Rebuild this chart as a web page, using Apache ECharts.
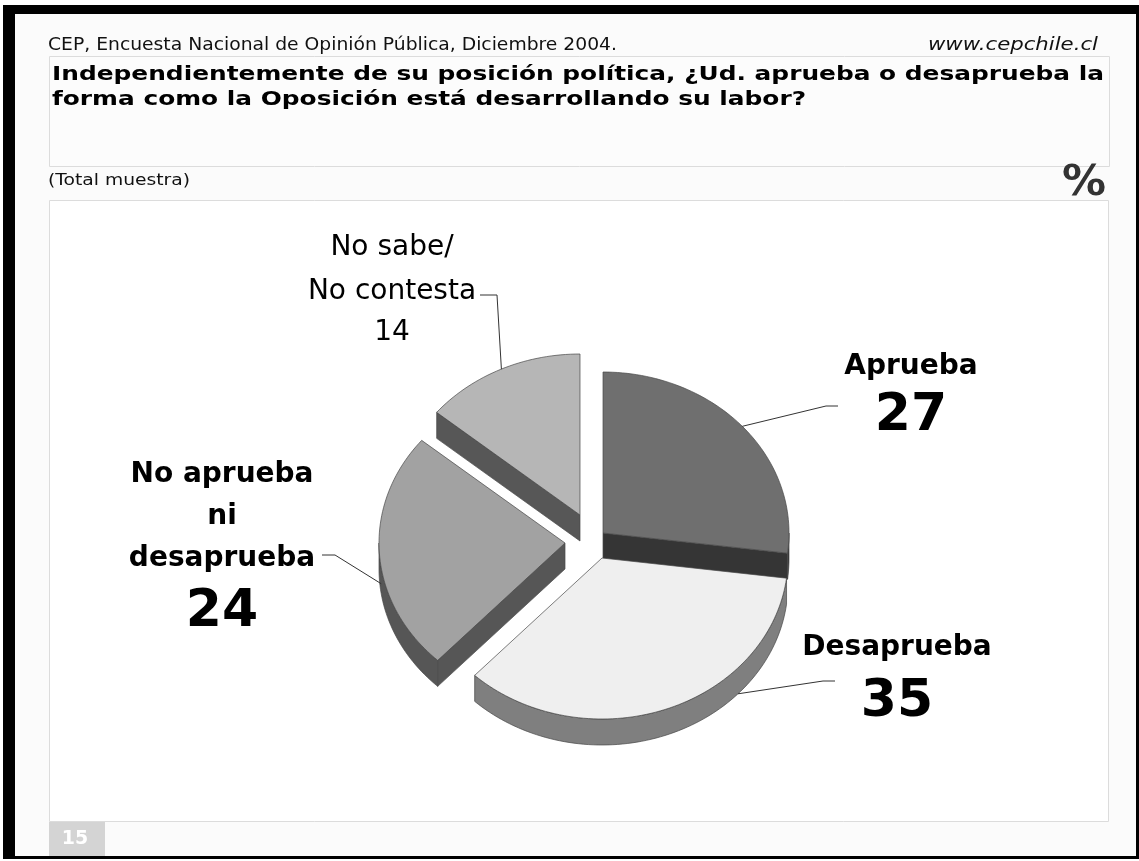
<!DOCTYPE html>
<html>
<head>
<meta charset="utf-8">
<script src="https://cdn.jsdelivr.net/npm/echarts@6/dist/echarts.min.js"></script>
<style>
  html, body { margin: 0; padding: 0; background: #ffffff; }
  #chart { width: 1139px; height: 861px; }
</style>
</head>
<body>
<div id="chart"></div>
<script>
// ---------------- data ----------------
const categories = ['Aprueba', 'Desaprueba', 'No aprueba\nni\ndesaprueba', 'No sabe/\nNo contesta'];
const values = [27, 35, 24, 14];
const sourceText = 'CEP, Encuesta Nacional de Opinión Pública, Diciembre 2004.';
const siteText = 'www.cepchile.cl';
const titleLines = ['Independientemente de su posición política, ¿Ud. aprueba o desaprueba la',
                    'forma como la Oposición está desarrollando su labor?'];
const sampleText = '(Total muestra)';
const unitText = '%';
const pageNumber = '15';

// ---------------- style / layout ----------------
const topColors  = ['#6f6f6f', '#efefef', '#a2a2a2', '#b6b6b6'];
const sideColors = ['#353535', '#7f7f7f', '#565656', '#575757'];
const PIE = { cx: 603, cy: 533, rx: 186, ry: 161, depth: 26 };
const explode = [[0, 0], [-1, 25], [-38, 10], [-23, -18]];
const labelLayout = [
  { x: 911, nameY: 367, valueY: 416, bold: true,  lh: 42, leaderAngle: 48.5, leaderDepth: 0,   leader: [[826, 406], [838, 406]] },
  { x: 897, nameY: 648, valueY: 702, bold: true,  lh: 42, leaderAngle: 133,  leaderDepth: 1,   leader: [[823, 681], [835, 681]] },
  { x: 222, nameY: 517, valueY: 612, bold: true,  lh: 42, leaderAngle: 261,  leaderDepth: 0.6, leader: [[335, 555], [322, 555]] },
  { x: 392, nameY: 270, valueY: 333, bold: false, lh: 44, leaderAngle: 335,  leaderDepth: 0,   leader: [[497, 295], [480, 295]] }
];

// ---------------- helpers ----------------
const total = values.reduce((a, b) => a + b, 0);
const angles = [];
(function () { let acc = 0; values.forEach(v => { const s = acc / total * 360; acc += v; angles.push([s, acc / total * 360]); }); })();

const mctx = document.createElement('canvas').getContext('2d');
function measure(text, font) { mctx.font = font; return mctx.measureText(text).width; }

function pt(c, ang, dy) {
  const a = ang * Math.PI / 180;
  return [c[0] + PIE.rx * Math.sin(a), c[1] - PIE.ry * Math.cos(a) + dy];
}
function arcPts(c, a0, a1, dy) {
  const n = Math.max(2, Math.ceil(Math.abs(a1 - a0) / 1.5));
  const out = [];
  for (let k = 0; k <= n; k++) out.push(pt(c, a0 + (a1 - a0) * k / n, dy));
  return out;
}

const FONT = '"DejaVu Sans", Verdana, sans-serif';
function txt(o) {
  const st = Object.assign({ fill: '#000' }, o.style);
  if (st.align) st.textAlign = st.align;
  if (st.verticalAlign) st.textVerticalAlign = st.verticalAlign;
  return { type: 'text', x: o.x, y: o.y, scaleX: o.scaleX || 1, style: st, z: 5 };
}

function renderItem(params, api) {
  const i = params.dataIndex;
  const s = angles[i][0], e = angles[i][1];
  const c = [PIE.cx + explode[i][0], PIE.cy + explode[i][1]];
  const D = PIE.depth;
  const line = { stroke: '#474747', lineWidth: 0.7, lineJoin: 'round' };
  const children = [];
  // curved outer wall (front half only)
  const w0 = Math.max(s, 90), w1 = Math.min(e, 270);
  if (w1 > w0) {
    const pts = arcPts(c, w0, w1, 0).concat(arcPts(c, w1, w0, D));
    children.push({ type: 'polygon', shape: { points: pts }, style: Object.assign({ fill: sideColors[i] }, line) });
  }
  function radialWall(a) {
    const r = pt(c, a, 0);
    return { type: 'polygon', shape: { points: [c, r, [r[0], r[1] + D], [c[0], c[1] + D]] },
             style: Object.assign({ fill: sideColors[i] }, line) };
  }
  if (s > 180 && s < 360) children.push(radialWall(s));
  if (e > 0 && e < 180) children.push(radialWall(e));
  // top face
  children.push({ type: 'polygon', shape: { points: [c].concat(arcPts(c, s, e, 0)) },
                  style: Object.assign({ fill: topColors[i] }, line) });
  // leader line
  const L = labelLayout[i];
  const rim = pt(c, L.leaderAngle, D * L.leaderDepth);
  children.push({ type: 'polyline', shape: { points: [rim].concat(L.leader) },
                  style: { stroke: '#333', lineWidth: 1, fill: null } });
  // labels
  const w = L.bold ? 'bold ' : '';
  children.push(txt({ x: L.x, y: L.nameY, style: { text: categories[i], font: w + '28px ' + FONT,
                       align: 'center', verticalAlign: 'middle', lineHeight: L.lh } }));
  children.push(txt({ x: L.x, y: L.valueY, style: { text: String(values[i]),
                       font: (L.bold ? 'bold 52px ' : '28px ') + FONT, align: 'center', verticalAlign: 'middle' } }));
  return { type: 'group', children: children };
}

// fitted header texts
const fSrc = '17px ' + FONT, fSite = 'italic 17px ' + FONT, fTitle = 'bold 20px ' + FONT,
      fSample = '16px ' + FONT, fUnit = 'bold 42px ' + FONT, fPage = 'bold 19px ' + FONT;
const sSrc = 569 / measure(sourceText, fSrc);
const sSite = 170 / measure(siteText, fSite);
const sTitle = 1052 / measure(titleLines[0], fTitle);
const sSample = 142 / measure(sampleText, fSample);
const sUnit = 44 / measure(unitText, fUnit);

const chart = echarts.init(document.getElementById('chart'), null, { renderer: 'canvas' });
chart.setOption({
  animation: false,
  backgroundColor: '#ffffff',
  graphic: {
    elements: [
      { type: 'rect', shape: { x: 3, y: 5, width: 1136, height: 854 }, style: { fill: '#000' }, z: 0 },
      { type: 'rect', shape: { x: 15, y: 14, width: 1121, height: 842 }, style: { fill: '#fbfbfb' }, z: 1 },
      { type: 'rect', shape: { x: 49.5, y: 56.5, width: 1060, height: 110 }, style: { fill: '#fcfcfc', stroke: '#dcdcdc', lineWidth: 1 }, z: 2 },
      { type: 'rect', shape: { x: 49.5, y: 200.5, width: 1059, height: 621 }, style: { fill: '#ffffff', stroke: '#dcdcdc', lineWidth: 1 }, z: 2 },
      { type: 'rect', shape: { x: 49, y: 822, width: 56, height: 34 }, style: { fill: '#d4d4d4' }, z: 2 },
      txt({ x: 48, y: 46, scaleX: sSrc, style: { text: sourceText, font: fSrc, fill: '#111', align: 'left', verticalAlign: 'middle' } }),
      txt({ x: 1098, y: 46, scaleX: sSite, style: { text: siteText, font: fSite, fill: '#111', align: 'right', verticalAlign: 'middle' } }),
      txt({ x: 52, y: 75, scaleX: sTitle, style: { text: titleLines[0], font: fTitle, fill: '#000', align: 'left', verticalAlign: 'middle' } }),
      txt({ x: 52, y: 100, scaleX: sTitle, style: { text: titleLines[1], font: fTitle, fill: '#000', align: 'left', verticalAlign: 'middle' } }),
      txt({ x: 48, y: 181, scaleX: sSample, style: { text: sampleText, font: fSample, fill: '#111', align: 'left', verticalAlign: 'middle' } }),
      txt({ x: 1106, y: 184, scaleX: sUnit, style: { text: unitText, font: fUnit, fill: '#333', align: 'right', verticalAlign: 'middle' } }),
      txt({ x: 75, y: 839, style: { text: pageNumber, font: fPage, fill: '#ffffff', align: 'center', verticalAlign: 'middle' } })
    ]
  },
  series: [{
    type: 'custom',
    coordinateSystem: 'none',
    silent: true,
    z: 10,
    data: values.map((v, i) => [v, i]),
    renderItem: renderItem
  }]
});
</script>
</body>
</html>
